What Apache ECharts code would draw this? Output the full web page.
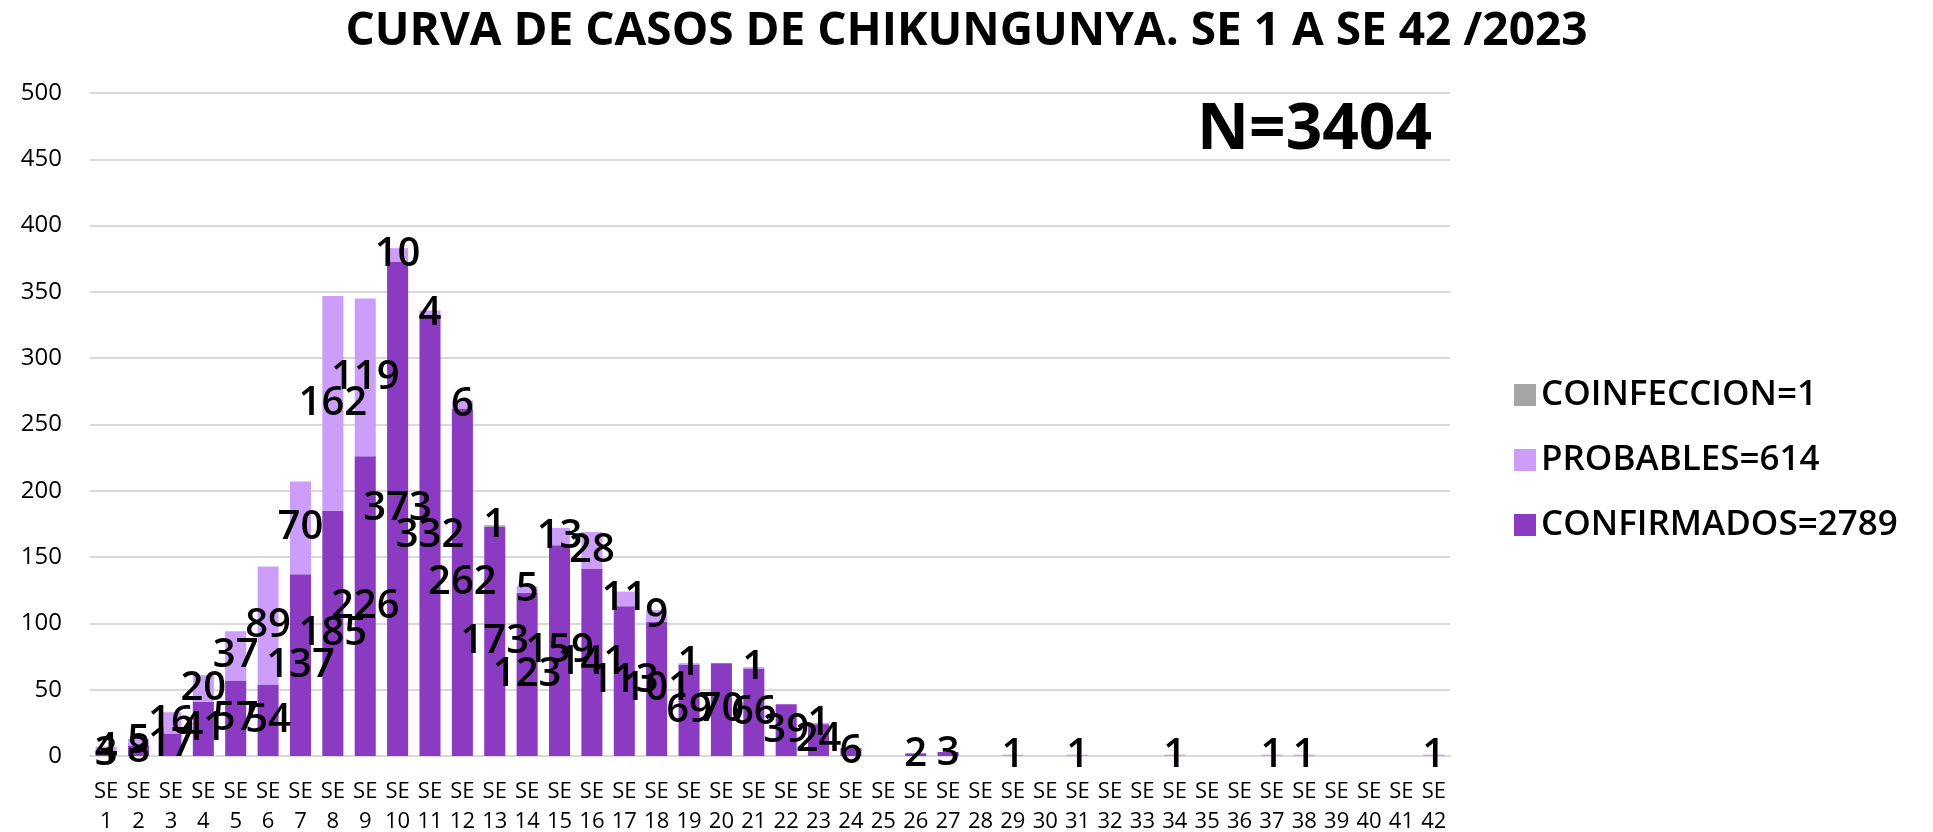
<!DOCTYPE html>
<html>
<head>
<meta charset="utf-8">
<script src="https://cdn.jsdelivr.net/npm/echarts@6/dist/echarts.min.js"></script>
<style>
html,body{margin:0;padding:0;background:#fff;}
#chart{width:1933px;height:832px;}
</style>
</head>
<body>
<div id="chart"></div>
<script>
const weeks = [];
for (let i = 1; i <= 42; i++) weeks.push('SE\n' + i);
const confirmados = [3,8,17,41,57,54,137,185,226,373,332,262,173,123,159,141,113,101,69,70,66,39,24,6,0,2,3,0,0,0,0,0,0,0,0,0,0,0,0,0,0,0];
const probables   = [4,5,16,20,37,89,70,162,119,10,4,6,0,5,13,28,11,9,1,0,1,0,1,0,0,0,0,0,1,0,1,0,0,1,0,0,1,1,0,0,0,1];
const coinfeccion = [0,0,0,0,0,0,0,0,0,0,0,0,1,0,0,0,0,0,0,0,0,0,0,0,0,0,0,0,0,0,0,0,0,0,0,0,0,0,0,0,0,0];
const seriesNames = ['CONFIRMADOS=2789','PROBABLES=614','COINFECCION=1'];
const yTicks = {min:0, max:500, interval:50};

const FONT = '"Open Sans", "Noto Sans", sans-serif';
const labelCfg = {
  show: true,
  position: 'inside',
  color: '#000',
  fontSize: 40,
  fontWeight: 600,
  fontFamily: FONT,
  textBorderWidth: 0,
  formatter: p => (p.value ? String(p.value) : '')
};
function mk(name, data, color) {
  return {
    name, type: 'bar', stack: 'total', data,
    barCategoryGap: '35%',
    itemStyle: {color},
    label: labelCfg,
    labelLayout: {hideOverlap: false}
  };
}
const chart = echarts.init(document.getElementById('chart'), null, {renderer: 'canvas'});
chart.setOption({
  animation: false,
  textStyle: {fontFamily: FONT},
  title: [
    {text: 'CURVA DE CASOS DE CHIKUNGUNYA. SE 1 A SE 42 /2023', left: 'center', top: 4,
     textStyle: {fontSize: 46, fontWeight: 'bold', color: '#000', fontFamily: FONT}},
    {text: 'N=3404', right: 496, top: 94,
     textStyle: {fontSize: 64, fontWeight: 'bold', color: '#000', fontFamily: FONT}}
  ],
  legend: {
    orient: 'vertical', left: 1509, top: 370,
    data: ['COINFECCION=1','PROBABLES=614','CONFIRMADOS=2789'],
    icon: 'rect', itemWidth: 22, itemHeight: 22, itemGap: 25,
    textStyle: {fontSize: 35, fontWeight: 600, color: '#000', fontFamily: FONT, lineHeight: 40}
  },
  grid: {left: 90, right: 483, top: 93, bottom: 76, containLabel: false, outerBoundsMode: 'none'},
  xAxis: {
    type: 'category', data: weeks,
    axisLine: {lineStyle: {color: '#d9d9d9', width: 2}},
    axisTick: {show: false},
    axisLabel: {interval: 0, fontSize: 22, fontWeight: 'normal', lineHeight: 30, color: '#000', margin: 21, fontFamily: FONT}
  },
  yAxis: {
    type: 'value', min: yTicks.min, max: yTicks.max, interval: yTicks.interval,
    axisLine: {show: false}, axisTick: {show: false},
    splitLine: {lineStyle: {color: '#d9d9d9', width: 2}},
    axisLabel: {fontSize: 24, fontWeight: 'normal', color: '#000', margin: 28, fontFamily: FONT}
  },
  series: [
    mk(seriesNames[0], confirmados, '#8a3bc2'),
    mk(seriesNames[1], probables, '#cd9dfa'),
    mk(seriesNames[2], coinfeccion, '#a5a5a5')
  ]
});
</script>
</body>
</html>
